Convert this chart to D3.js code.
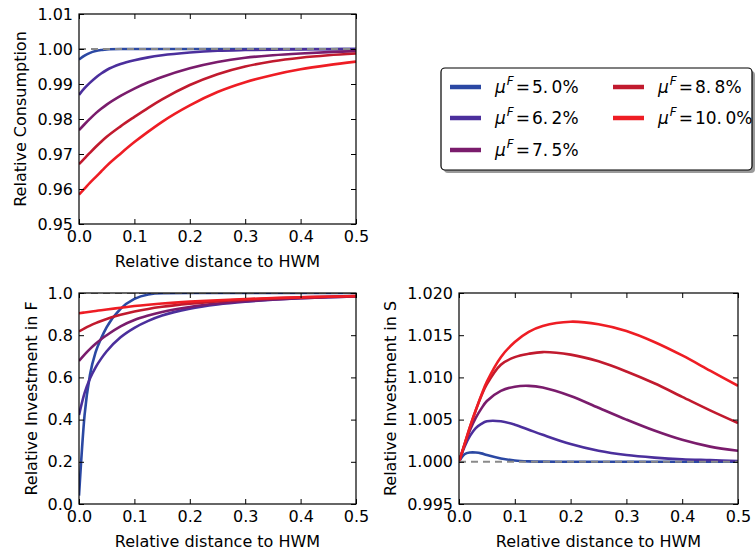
<!DOCTYPE html>
<html><head><meta charset="utf-8">
<script src="https://cdn.jsdelivr.net/npm/d3@7"></script>
<style>
body{margin:0;background:#fff}
svg{display:block}
text{font-family:"DejaVu Sans",sans-serif;fill:#000}
</style>
</head><body>
<svg id="c" width="755" height="559"></svg>
<script>
// ---- data ----
const xs = [0, 0.01, 0.02, 0.03, 0.04, 0.05, 0.075, 0.1, 0.125, 0.15, 0.2, 0.25, 0.3, 0.35, 0.4, 0.45, 0.5];
const seriesLabels = ["5.0", "6.2", "7.5", "8.8", "10.0"];
const seriesColors = ["#2b48a3", "#4b2f9c", "#7a1c6c", "#c11a2e", "#ee1d24"];

const consumption = [
  [0.9970,0.9981,0.9989,0.9994,0.9997,0.9999,0.99998,1.0000,1.0000,1.0000,1.0000,1.0000,1.0000,1.0000,1.0000,1.0000,1.0000],
  [0.9869,0.9888,0.9904,0.9918,0.9930,0.9940,0.9957,0.9968,0.9976,0.9982,0.9990,0.9995,0.9997,0.9998,0.99988,0.99994,0.99997],
  [0.9768,0.9785,0.9801,0.9816,0.9829,0.9841,0.9866,0.9887,0.9905,0.9920,0.9945,0.9963,0.9975,0.9982,0.9987,0.9991,0.9994],
  [0.9671,0.96875,0.9704,0.9720,0.9735,0.9749,0.9779,0.9806,0.9832,0.9856,0.9897,0.9928,0.9950,0.9965,0.9975,0.9982,0.9987],
  [0.9584,0.9601,0.9618,0.9634,0.9650,0.9666,0.9701,0.9734,0.9764,0.9792,0.9839,0.9877,0.9905,0.9926,0.9942,0.9954,0.9964]
];
const investF = [
  [0.04,0.42,0.615,0.72,0.785,0.838,0.925,0.972,0.993,0.999,1.0,1.0,1.0,1.0,1.0,1.0,1.0],
  [0.422,0.525,0.596,0.648,0.689,0.724,0.79,0.835,0.868,0.893,0.926,0.946,0.959,0.968,0.975,0.98,0.984],
  [0.678,0.708,0.735,0.759,0.781,0.80,0.842,0.872,0.893,0.91,0.934,0.95,0.961,0.969,0.975,0.98,0.984],
  [0.818,0.8325,0.8455,0.857,0.8675,0.877,0.8965,0.912,0.9245,0.9345,0.9495,0.9605,0.9685,0.9745,0.9793,0.983,0.986],
  [0.904,0.9078,0.9115,0.915,0.9185,0.922,0.930,0.938,0.9445,0.950,0.959,0.966,0.9715,0.976,0.9795,0.9825,0.985]
];
const investS = [
  [1.0000,1.0009,1.0011,1.0011,1.0010,1.0008,1.0004,1.00015,1.00005,1.00002,1.0000,1.0000,1.0000,1.0000,1.0000,1.0000,1.0000],
  [1.0000,1.0018,1.0031,1.0040,1.0045,1.0048,1.0048,1.0044,1.0038,1.0032,1.0021,1.0013,1.0008,1.0005,1.0003,1.0002,1.0001],
  [1.0000,1.0020,1.0038,1.0052,1.0063,1.0072,1.0084,1.0089,1.0090,1.0088,1.0078,1.0064,1.0050,1.0037,1.0026,1.0018,1.0013],
  [1.0000,1.0021,1.0042,1.0061,1.0078,1.0092,1.0115,1.0124,1.0128,1.0130,1.0127,1.0119,1.0107,1.0093,1.0077,1.0061,1.0046],
  [1.0000,1.0021,1.0042,1.0061,1.0079,1.0095,1.0124,1.0142,1.0154,1.0161,1.0166,1.0163,1.0155,1.0142,1.0126,1.0108,1.0090]
];
const xTicks = [0, 0.1, 0.2, 0.3, 0.4, 0.5];
const consumptionTicks = [0.95, 0.96, 0.97, 0.98, 0.99, 1.00, 1.01];
const investFTicks = [0, 0.2, 0.4, 0.6, 0.8, 1.0];
const investSTicks = [0.995, 1.000, 1.005, 1.010, 1.015, 1.020];
const xLabel = "Relative distance to HWM";

// ---- drawing ----
const svg = d3.select("#c");
svg.append("rect").attr("width",755).attr("height",559).attr("fill","#fff");

function panel(id, box, ydom, yticks, yfmt, data, ylabel, ylabelX, curve) {
  const x = d3.scaleLinear().domain([0,0.5]).range([box.x0, box.x1]);
  const y = d3.scaleLinear().domain(ydom).range([box.y1, box.y0]);
  const g = svg.append("g");
  g.append("clipPath").attr("id", id).append("rect")
    .attr("x", box.x0).attr("y", box.y0).attr("width", box.x1-box.x0).attr("height", box.y1-box.y0);
  const line = d3.line().x((d,i)=>x(xs[i])).y(d=>y(d)).curve(curve);
  const cg = g.append("g").attr("clip-path", `url(#${id})`);
  data.forEach((vals, k) => {
    cg.append("path").attr("d", line(vals)).attr("fill","none")
      .attr("stroke", seriesColors[k]).attr("stroke-width", 2.6).attr("stroke-linejoin","round");
  });
  cg.append("line").attr("x1", x(0)).attr("x2", x(0.5)).attr("y1", y(1)).attr("y2", y(1))
    .attr("stroke","#8a8a8a").attr("stroke-width",2).attr("stroke-dasharray","7,5");
  const fx = d3.format(".1f");
  const ax = g.append("g").attr("transform",`translate(0,${box.y1})`)
    .call(d3.axisBottom(x).tickValues(xTicks).tickFormat(fx).tickSize(-5).tickSizeOuter(0).tickPadding(7));
  const at = g.append("g").attr("transform",`translate(0,${box.y0})`)
    .call(d3.axisTop(x).tickValues(xTicks).tickFormat("").tickSize(-5).tickSizeOuter(0));
  const ay = g.append("g").attr("transform",`translate(${box.x0},0)`)
    .call(d3.axisLeft(y).tickValues(yticks).tickFormat(d3.format(yfmt)).tickSize(-5).tickSizeOuter(0).tickPadding(6));
  const ar = g.append("g").attr("transform",`translate(${box.x1},0)`)
    .call(d3.axisRight(y).tickValues(yticks).tickFormat("").tickSize(-5).tickSizeOuter(0));
  [ax,at,ay,ar].forEach(a => {
    a.select(".domain").remove();
    a.selectAll("line").attr("stroke","#000").attr("stroke-width",1);
    a.selectAll("text").attr("font-size",16).attr("font-family","DejaVu Sans");
  });
  g.append("rect").attr("x", box.x0).attr("y", box.y0).attr("width", box.x1-box.x0).attr("height", box.y1-box.y0)
    .attr("fill","none").attr("stroke","#000").attr("stroke-width",1.2);
  g.append("text").attr("x", (box.x0+box.x1)/2).attr("y", box.y1+43).attr("text-anchor","middle")
    .attr("font-size",16).text(xLabel);
  g.append("text").attr("transform",`translate(${ylabelX},${(box.y0+box.y1)/2}) rotate(-90)`)
    .attr("text-anchor","middle").attr("dy","0.35em").attr("font-size",16).text(ylabel);
}

panel("cp1", {x0:79, x1:356, y0:14, y1:224}, [0.95,1.01], consumptionTicks, ".2f", consumption, "Relative Consumption", 20, d3.curveMonotoneX);
panel("cp2", {x0:79, x1:356, y0:293, y1:504}, [0,1], investFTicks, ".1f", investF, "Relative Investment in F", 31, d3.curveMonotoneX);
panel("cp3", {x0:459, x1:738, y0:293, y1:504}, [0.995,1.02], investSTicks, ".3f", investS, "Relative Investment in S", 390, d3.curveCatmullRom.alpha(0.5));

// legend
const lg = svg.append("g");
lg.append("rect").attr("x",444).attr("y",71).attr("width",311).attr("height",102).attr("rx",4)
  .attr("fill","#9a9a9a");
lg.append("rect").attr("x",441).attr("y",68).attr("width",311).attr("height",102).attr("rx",4)
  .attr("fill","#fff").attr("stroke","#000").attr("stroke-width",1.2);
const legPos = [[450,87],[450,118],[450,150],[613,87],[613,118]];
seriesLabels.forEach((lab,k) => {
  const [lx,ly] = legPos[k];
  lg.append("line").attr("x1",lx).attr("x2",lx+31).attr("y1",ly).attr("y2",ly)
    .attr("stroke",seriesColors[k]).attr("stroke-width",4.5);
  const t = lg.append("text").attr("x",lx+45).attr("y",ly+6)
    .attr("font-family","'Liberation Serif', 'DejaVu Serif', serif").attr("font-size",17);
  t.append("tspan").attr("font-style","italic").text("μ");
  t.append("tspan").attr("font-style","italic").attr("font-size",12).attr("dy",-8).attr("dx",1).text("F");
  t.append("tspan").attr("dy",8).attr("dx",2).text("=");
  t.append("tspan").attr("dx",2).text(lab.replace(".", ".\u2009") + "%");
});
</script>
</body></html>
